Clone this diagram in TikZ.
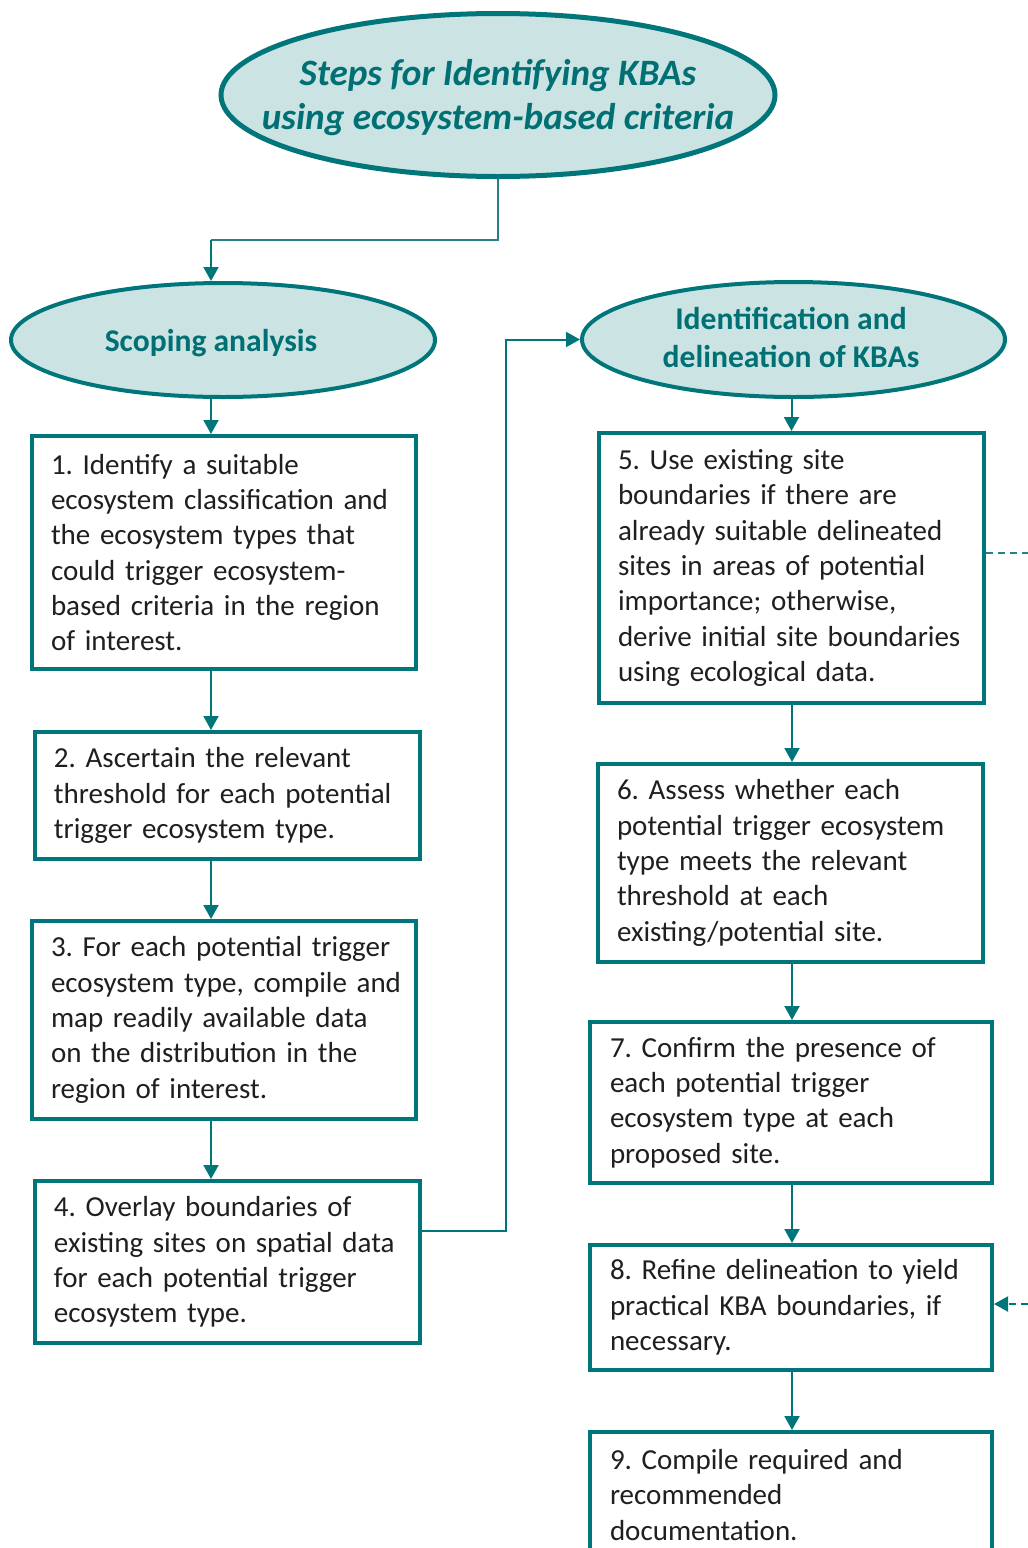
\documentclass[tikz,border=0pt]{standalone}
\usepackage{fontspec}
\setmainfont{Carlito}
\usetikzlibrary{shapes.geometric,arrows.meta}
\definecolor{kbateal}{RGB}{0,118,122}
\definecolor{kbafill}{RGB}{204,227,227}
\definecolor{kbaline}{RGB}{40,128,132}
\definecolor{kbatext}{RGB}{0,112,116}
\frenchspacing

\begin{document}
\begin{tikzpicture}[x=0.5pt,y=-0.5pt,
  oval/.style={ellipse, draw=kbateal, fill=kbafill, line width=2pt, inner sep=0pt},
  ovaltext/.style={text=kbatext, align=center, inner sep=0pt,
    font=\fontsize{15.8}{19}\selectfont\bfseries},
  stepbox/.style={draw=kbateal, line width=2pt, fill=white, align=left,
    anchor=north west, inner xsep=9.5pt, inner ysep=0pt,
    font=\fontsize{14.5}{17.65}\selectfont, text=black!88},
  conn/.style={draw=kbaline, line width=1pt},
  tip/.style={-{Triangle[length=7pt,width=7.5pt]}, kbateal},
  dashconn/.style={conn, dash pattern=on 3.5pt off 2.5pt},
]
\useasboundingbox (0,0) rectangle (1028,1548);
\clip (0,0) rectangle (1028,1548);

% headers
\node[oval, line width=2.5pt, minimum width=277pt, minimum height=81.5pt] (title) at (498,95) {};
\node[ovaltext, font=\fontsize{18.6}{22}\selectfont\bfseries\itshape] (titlelbl) at (498,98)
  {Steps for Identifying KBAs\\using ecosystem-based criteria};

\node[oval, minimum width=212pt, minimum height=57pt] (scope) at (223,340) {};
\node[ovaltext] (scopelbl) at (211,343) {Scoping analysis};

\node[oval, minimum width=211.5pt, minimum height=57.5pt] (ident) at (793.5,339.5) {};
\node[ovaltext] (identlbl) at (791,337) {Identification and\\delineation of KBAs};

% left column
\node[stepbox, text width=173pt, minimum height=116.5pt] (b1) at (30,434)
  {1. Identify a suitable\\ecosystem classification and\\the ecosystem types that\\could trigger ecosystem-\\based criteria in the region\\of interest.};
\node[stepbox, text width=173.5pt, minimum height=63.5pt] (b2) at (33,730)
  {2. Ascertain the relevant\\threshold for each potential\\trigger ecosystem type.};
\node[stepbox, text width=173pt, minimum height=99pt] (b3) at (30,919)
  {3. For each potential trigger\\\mbox{ecosystem type, compile and}\\map readily available data\\on the distribution in the\\region of interest.};
\node[stepbox, text width=173.5pt, minimum height=81pt] (b4) at (33,1179)
  {4. Overlay boundaries of\\existing sites on spatial data\\for each potential trigger\\ecosystem type.};

% right column
\node[stepbox, text width=173.5pt, minimum height=135pt] (b5) at (597,431)
  {5. Use existing site\\boundaries if there are\\already suitable delineated\\sites in areas of potential\\importance; otherwise,\\derive initial site boundaries\\using ecological data.};
\node[stepbox, text width=173.5pt, minimum height=99pt] (b6) at (596,762)
  {6. Assess whether each\\potential trigger ecosystem\\type meets the relevant\\threshold at each\\existing/potential site.};
\node[stepbox, text width=181pt, minimum height=80.5pt, inner xsep=10pt] (b7) at (588,1020)
  {7. Confirm the presence of\\each potential trigger\\ecosystem type at each\\proposed site.};
\node[stepbox, text width=181pt, minimum height=62.5pt, inner xsep=10pt] (b8) at (588,1243)
  {8. Refine delineation to yield\\practical KBA boundaries, if\\necessary.};
\node[stepbox, text width=181pt, minimum height=63pt, inner xsep=10pt] (b9) at (588,1430)
  {9. Compile required and\\recommended\\documentation.};

% routing points
\coordinate (lx) at (211,0);
\coordinate (rx) at (792,0);
\coordinate (split) at (211,240);
\coordinate (jog) at (506,1231);
\coordinate (out5) at (1028,553);
\coordinate (in8) at (1028,1304);

% connectors
\draw[conn] (title.south) |- (split);
\draw[conn, tip] (split) -- (split |- scope.north);
\draw[conn, tip] (scope.south -| lx) -- (b1.north -| lx);
\draw[conn, tip] (b1.south -| lx) -- (b2.north -| lx);
\draw[conn, tip] (b2.south -| lx) -- (b3.north -| lx);
\draw[conn, tip] (b3.south -| lx) -- (b4.north -| lx);
\draw[conn, tip] (b4.east |- jog) -- (jog) |- (ident.west);

\draw[conn, tip] (ident.south -| b5.north) -- (b5.north);
\draw[conn, tip] (b5.south -| rx) -- (b6.north -| rx);
\draw[conn, tip] (b6.south -| rx) -- (b7.north -| rx);
\draw[conn, tip] (b7.south -| rx) -- (b8.north -| rx);
\draw[conn, tip] (b8.south -| rx) -- (b9.north -| rx);

\draw[dashconn] (b5.east |- out5) -- (out5);
\draw[dashconn, tip] (in8) -- (b8.east |- in8);
\end{tikzpicture}
\end{document}
